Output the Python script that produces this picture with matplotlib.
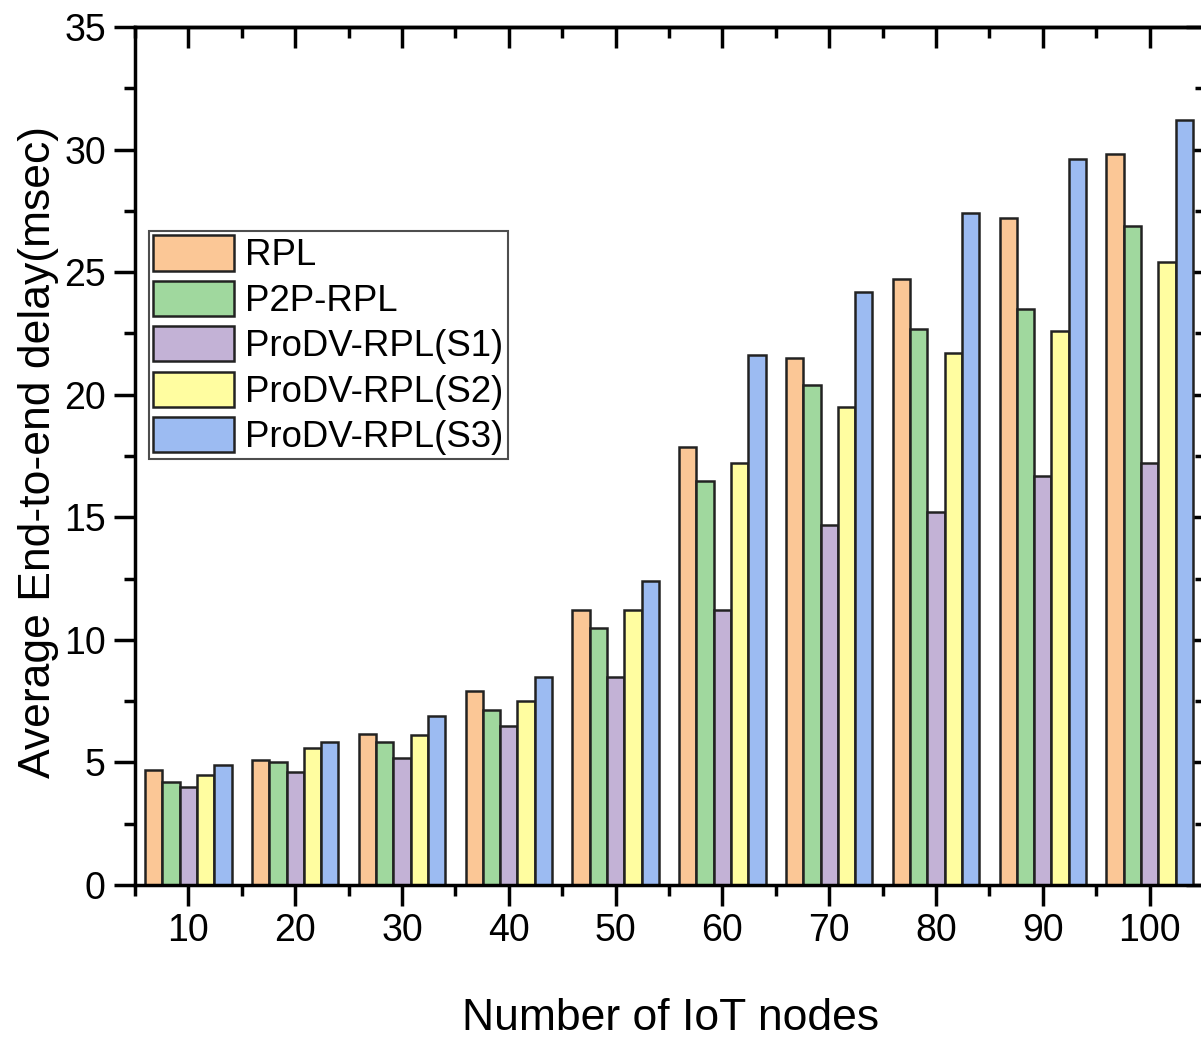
import matplotlib
matplotlib.use("Agg")
import matplotlib.pyplot as plt
import numpy as np
from matplotlib.ticker import FixedLocator, MultipleLocator

nodes = [10, 20, 30, 40, 50, 60, 70, 80, 90, 100]
rpl = [4.7, 5.1, 6.15, 7.9, 11.2, 17.85, 21.5, 24.7, 27.2, 29.8]
p2p = [4.2, 5.0, 5.85, 7.15, 10.5, 16.5, 20.4, 22.7, 23.5, 26.9]
s1 = [4.0, 4.6, 5.2, 6.5, 8.5, 11.2, 14.7, 15.2, 16.7, 17.2]
s2 = [4.5, 5.6, 6.1, 7.5, 11.2, 17.2, 19.5, 21.7, 22.6, 25.4]
s3 = [4.9, 5.85, 6.9, 8.5, 12.4, 21.6, 24.2, 27.4, 29.6, 31.2]
labels = ["RPL", "P2P-RPL", "ProDV-RPL(S1)", "ProDV-RPL(S2)", "ProDV-RPL(S3)"]
colors = ["#FBC796", "#A0D89E", "#C3B2D6", "#FFFDA0", "#9CBBF2"]

plt.rcParams['font.family'] = ['Liberation Sans', 'DejaVu Sans']

W, H = 1201, 1038
fig = plt.figure(figsize=(W / 100, H / 100), dpi=100)
left, right, bottom, top = 135, 1203, 885, 27
ax = fig.add_axes([left / W, 1 - bottom / H, (right - left) / W, (bottom - top) / H])

series = [rpl, p2p, s1, s2, s3]
bw = 1.62
x = np.array(nodes, dtype=float)
for i, (vals, lab, c) in enumerate(zip(series, labels, colors)):
    ax.bar(x + (i - 2) * bw, vals, width=bw, color=c, edgecolor="#222222",
           linewidth=1.8, label=lab, zorder=2)

ax.set_xlim(5, 105)
ax.set_ylim(0, 35)
ax.xaxis.set_major_locator(FixedLocator(nodes))
ax.xaxis.set_minor_locator(FixedLocator(np.arange(5, 106, 10)))
ax.yaxis.set_major_locator(MultipleLocator(5))
ax.yaxis.set_minor_locator(MultipleLocator(2.5))

for s in ax.spines.values():
    s.set_linewidth(2.5)

ax.tick_params(axis='both', which='major', labelsize=27, width=2.5, length=15)
ax.tick_params(axis='both', which='minor', width=2.5, length=8)
ax.tick_params(axis='x', which='both', direction='out', top=False)
ax.tick_params(axis='y', which='both', direction='out', right=False)
ax.tick_params(axis='x', which='major', pad=5)
ax.tick_params(axis='y', which='major', pad=6)

# inward ticks on top and right
axt = ax.secondary_xaxis('top')
axt.xaxis.set_major_locator(FixedLocator(nodes))
axt.xaxis.set_minor_locator(FixedLocator(np.arange(5, 106, 10)))
axt.tick_params(which='major', direction='in', length=15, width=2.5, labeltop=False)
axt.tick_params(which='minor', direction='in', length=8, width=2.5)
axt.spines['top'].set_linewidth(2.5)
axr = ax.secondary_yaxis('right')
axr.yaxis.set_major_locator(MultipleLocator(5))
axr.yaxis.set_minor_locator(MultipleLocator(2.5))
axr.tick_params(which='major', direction='in', length=12, width=2.5, labelright=False)
axr.tick_params(which='minor', direction='in', length=6, width=2.5)

fig.text(671 / W, 1 - 1030 / H, "Number of IoT nodes", fontsize=32,
         ha='center', va='baseline')
fig.text(50 / W, 1 - 452 / H, "Average End-to-end delay(msec)", fontsize=32,
         rotation=90, rotation_mode='anchor', ha='center', va='baseline')

leg = ax.legend(loc='upper left', bbox_to_anchor=(149 / W, 1 - 231 / H),
                bbox_transform=fig.transFigure, borderaxespad=0,
                fontsize=26.4, frameon=True, fancybox=False, edgecolor='#222222',
                handlelength=2.2, handleheight=1.1, labelspacing=0.2,
                handletextpad=0.3, borderpad=0.12)
leg.get_frame().set_linewidth(1.5)

fig.savefig("out.png", dpi=100)
